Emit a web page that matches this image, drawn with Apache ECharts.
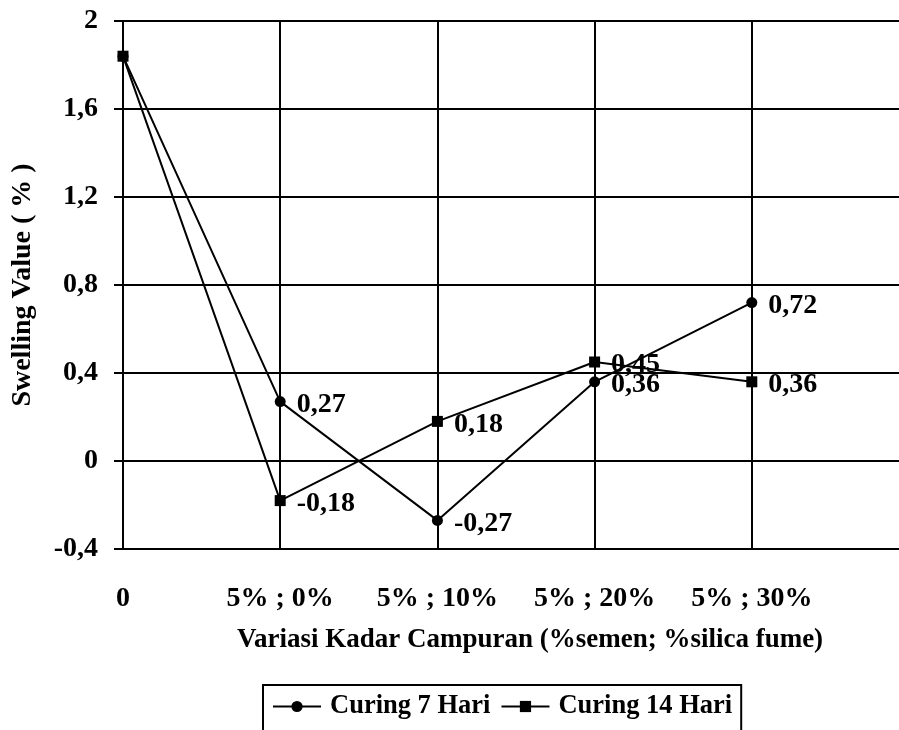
<!DOCTYPE html>
<html>
<head>
<meta charset="utf-8">
<script src="https://cdn.jsdelivr.net/npm/echarts@6/dist/echarts.min.js"></script>
<style>
  html, body { margin: 0; padding: 0; background: #fff; }
  #chart { width: 899px; height: 730px; }
</style>
</head>
<body>
<div id="chart"></div>
<script>
// Mix variations (% cement ; % silica fume)
const categories = ['0', '5% ; 0%', '5% ; 10%', '5% ; 20%', '5% ; 30%'];
// Swelling value (%) per curing period
const curing7 = [1.84, 0.27, -0.27, 0.36, 0.72];
const curing14 = [1.84, -0.18, 0.18, 0.45, 0.36];
const yTicks = [-0.4, 0, 0.4, 0.8, 1.2, 1.6, 2];

const FONT = '"Liberation Serif", "Times New Roman", serif';
const fmt = v => String(Math.round(v * 100) / 100).replace('.', ',');

const chart = echarts.init(document.getElementById('chart'), null, { renderer: 'canvas' });

function mkSeries(name, values, symbol, size) {
  return {
    name: name,
    type: 'line',
    data: values.map((v, i) => [i, v]),
    symbol: symbol,
    symbolSize: size,
    lineStyle: { color: '#000', width: 2 },
    itemStyle: { color: '#000' },
    label: {
      show: true,
      position: 'right',
      distance: 11,
      offset: [0, 3],
      fontFamily: FONT,
      fontWeight: 'bold',
      fontSize: 28,
      color: '#000',
      formatter: p => p.dataIndex === 0 ? '' : fmt(p.value[1])
    },
    emphasis: { disabled: true },
    z: 3
  };
}

chart.setOption({
  animation: false,
  backgroundColor: '#fff',
  grid: { left: 123, top: 21, width: 786, height: 528, containLabel: false, outerBoundsMode: 'none' },
  xAxis: {
    type: 'value',
    min: 0,
    max: 5,
    interval: 1,
    axisLine: { show: true, lineStyle: { color: '#000', width: 2 } },
    axisTick: { show: true, length: 9, lineStyle: { color: '#000', width: 2 } },
    splitLine: { show: true, lineStyle: { color: '#000', width: 2 } },
    axisLabel: {
      margin: 36,
      fontFamily: FONT,
      fontWeight: 'bold',
      fontSize: 28,
      color: '#000',
      formatter: v => categories[v] !== undefined ? categories[v] : ''
    }
  },
  yAxis: {
    type: 'value',
    min: -0.4,
    max: 2,
    interval: 0.4,
    name: 'Swelling Value ( % )',
    nameLocation: 'middle',
    nameGap: 86,
    nameTextStyle: { fontFamily: FONT, fontWeight: 'bold', fontSize: 28, color: '#000' },
    axisLine: { show: true, lineStyle: { color: '#000', width: 2 } },
    axisTick: { show: true, length: 9, lineStyle: { color: '#000', width: 2 } },
    splitLine: { show: true, lineStyle: { color: '#000', width: 2 } },
    axisLabel: {
      margin: 25,
      fontFamily: FONT,
      fontWeight: 'bold',
      fontSize: 28,
      color: '#000',
      formatter: v => {
        const t = yTicks.find(k => Math.abs(k - v) < 1e-6);
        return t === undefined ? '' : fmt(t);
      }
    }
  },
  legend: {
    data: ['Curing 7 Hari', 'Curing 14 Hari'],
    left: 263,
    top: 685,
    itemWidth: 48,
    itemHeight: 14,
    itemGap: 10,
    padding: [8, 9, 20, 9],
    borderColor: '#000',
    borderWidth: 2,
    textStyle: { fontFamily: FONT, fontWeight: 'bold', fontSize: 26.5, color: '#000', padding: [0, 0, 0, 4] }
  },
  graphic: [
    {
      type: 'text',
      x: 530,
      y: 640,
      style: {
        text: 'Variasi Kadar Campuran (%semen; %silica fume)',
        fontFamily: FONT,
        fontWeight: 'bold',
        fontSize: 27,
        fill: '#000',
        align: 'center',
        verticalAlign: 'middle'
      }
    }
  ],
  series: [
    mkSeries('Curing 7 Hari', curing7, 'circle', 11),
    mkSeries('Curing 14 Hari', curing14, 'rect', 11)
  ]
});
</script>
</body>
</html>
